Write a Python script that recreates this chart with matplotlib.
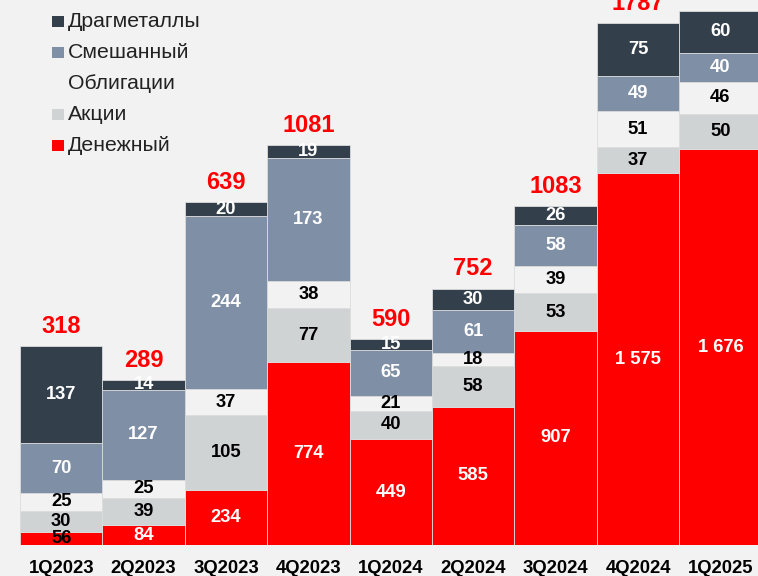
import matplotlib
matplotlib.use("Agg")
import matplotlib.pyplot as plt
from matplotlib.patches import Rectangle
import numpy as np

plt.rcParams['font.family'] = ['Liberation Sans', 'DejaVu Sans']

categories = ["1Q2023", "2Q2023", "3Q2023", "4Q2023", "1Q2024", "2Q2024", "3Q2024", "4Q2024", "1Q2025"]
money = [56, 84, 234, 774, 449, 585, 907, 1575, 1676]       # Денежный
stocks = [30, 39, 105, 77, 40, 58, 53, 37, 50]              # Акции
bonds = [25, 25, 37, 38, 21, 18, 39, 51, 46]                # Облигации
mixed = [70, 127, 244, 173, 65, 61, 58, 49, 40]             # Смешанный
metals = [137, 14, 20, 19, 15, 30, 26, 75, 60]              # Драгметаллы
totals = [318, 289, 639, 1081, 590, 752, 1083, 1787]        # 1Q2025 total is outside the frame

# the red (money market) series is drawn on a compressed scale in the original
money_scale = 1 / 3

series = [
    ("Денежный", money, "#ff0000", "white", money_scale),
    ("Акции", stocks, "#d0d3d4", "black", 1.0),
    ("Облигации", bonds, "#f2f2f2", "black", 1.0),
    ("Смешанный", mixed, "#7f8fa6", "white", 1.0),
    ("Драгметаллы", metals, "#333f4b", "white", 1.0),
]

W, H = 758, 576
fig = plt.figure(figsize=(W / 100, H / 100), dpi=100)
fig.patch.set_facecolor("#f2f2f2")
ax = fig.add_axes([0, 31 / H, 1, 545 / H])
ax.set_facecolor("#f2f2f2")


def fmt(v):
    return str(v) if v < 1000 else f"{v // 1000} {v % 1000:03d}"


x = np.arange(len(categories))
bottom = np.zeros(len(categories))
for name, vals, color, tcolor, sc in series:
    h = np.array(vals, dtype=float) * sc
    ax.bar(x, h, width=1.0, bottom=bottom, color=color, edgecolor="#dcdcdc",
           linewidth=0.6, zorder=2)
    for i, (v, hh) in enumerate(zip(vals, h)):
        c = tcolor
        if hh < 20 and color == "#ff0000":
            c = "black"
        ax.text(i, bottom[i] + hh / 2, fmt(v),
                ha="center", va="center", fontsize=13.2, fontweight="bold", color=c, zorder=3)
    bottom += h

for i, t in enumerate(totals):
    ax.annotate(str(t), (i, bottom[i]), xytext=(0, 6), textcoords="offset points",
                ha="center", va="bottom", fontsize=17, fontweight="bold", color="#ff0000",
                annotation_clip=False)

ax.set_xlim(-0.743, 8.456)
ax.set_ylim(0, 769.8)
ax.set_xticks(x)
ax.set_xticklabels(categories, fontsize=13.3, fontweight="bold", color="black")
ax.tick_params(axis="x", length=0, pad=11)
ax.set_yticks([])
for s in ax.spines.values():
    s.set_visible(False)

# legend (drawn as in the original, top item cut by the frame)
legend_items = [
    ("Другие", "#f2f2f2"),
    ("Драгметаллы", "#333f4b"),
    ("Смешанный", "#7f8fa6"),
    ("Облигации", "#f2f2f2"),
    ("Акции", "#d0d3d4"),
    ("Денежный", "#ff0000"),
]
y0 = -9.7
for k, (lab, col) in enumerate(legend_items):
    yc = y0 + 31 * k
    fig.patches.append(Rectangle((52 / W, 1 - (yc + 5.3) / H), 11.5 / W, 10.6 / H,
                                 transform=fig.transFigure, facecolor=col, edgecolor="none"))
    fig.text(68 / W, 1 - yc / H, lab, ha="left", va="center", fontsize=15.3, color="#222222")

fig.savefig("out.png", dpi=100, facecolor=fig.get_facecolor())
